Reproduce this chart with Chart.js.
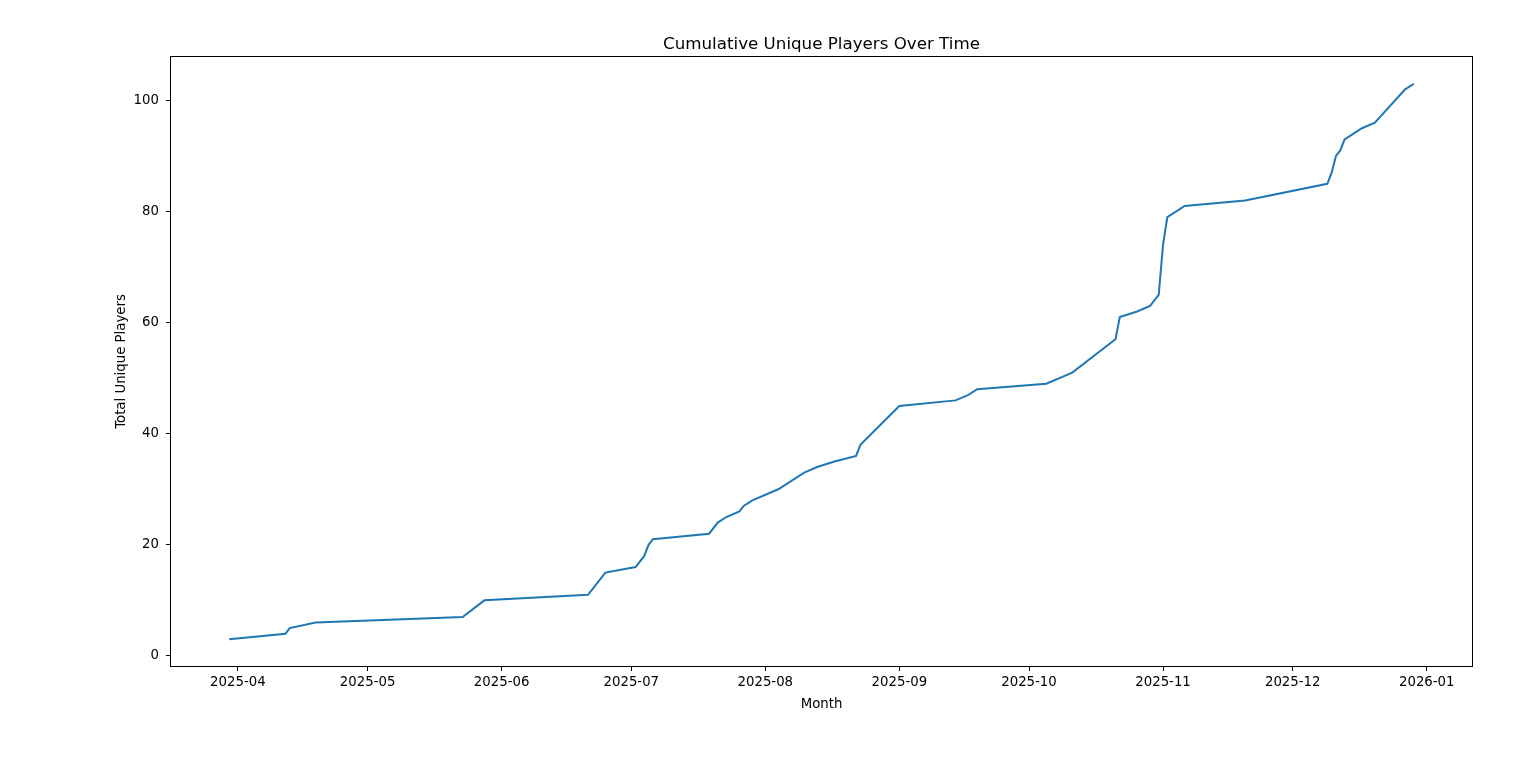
<!DOCTYPE html>
<html>
<head>
<meta charset="utf-8">
<script src="https://cdn.jsdelivr.net/npm/chart.js@4/dist/chart.umd.min.js"></script>
<style>
  html, body { margin: 0; padding: 0; background: #ffffff; }
  #wrap { width: 1536px; height: 759px; position: relative; }
  canvas { display: block; }
</style>
</head>
<body>
<div id="wrap"><canvas id="chart" width="1536" height="759"></canvas></div>
<script>
// ---- Data ----
const dates = [
  "2025-03-30", "2025-04-12", "2025-04-13", "2025-04-19", "2025-05-23", "2025-05-28",
  "2025-06-21", "2025-06-25", "2025-07-02", "2025-07-04", "2025-07-05", "2025-07-06",
  "2025-07-19", "2025-07-21", "2025-07-23", "2025-07-26", "2025-07-27", "2025-07-29",
  "2025-08-04", "2025-08-10", "2025-08-13", "2025-08-17", "2025-08-22", "2025-08-23",
  "2025-09-01", "2025-09-14", "2025-09-17", "2025-09-19", "2025-10-05", "2025-10-11",
  "2025-10-21", "2025-10-22", "2025-10-26", "2025-10-29", "2025-10-31", "2025-11-01",
  "2025-11-02", "2025-11-06", "2025-11-20", "2025-12-09", "2025-12-10", "2025-12-11",
  "2025-12-12", "2025-12-13", "2025-12-17", "2025-12-20", "2025-12-27", "2025-12-29"
];
const totalPlayers = [
  3, 4, 5, 6, 7, 10,
  11, 15, 16, 18, 20, 21,
  22, 24, 25, 26, 27, 28,
  30, 33, 34, 35, 36, 38,
  45, 46, 47, 48, 49, 51,
  57, 61, 62, 63, 65, 74,
  79, 81, 82, 85, 87, 90,
  91, 93, 95, 96, 102, 103
];
const monthTicks = [
  "2025-04", "2025-05", "2025-06", "2025-07", "2025-08",
  "2025-09", "2025-10", "2025-11", "2025-12", "2026-01"
];
const yTicks = [0, 20, 40, 60, 80, 100];

const titleText = "Cumulative Unique Players Over Time";
const xTitle = "Month";
const yTitle = "Total Unique Players";

// ---- Helpers: dates -> day numbers (UTC) ----
const DAY = 86400000;
function dayNum(s) {
  const p = s.split("-").map(Number);
  return Date.UTC(p[0], p[1] - 1, p[2] || 1) / DAY;
}
function fmtMonth(d) {
  const dt = new Date(d * DAY);
  const m = dt.getUTCMonth() + 1;
  return dt.getUTCFullYear() + "-" + (m < 10 ? "0" + m : m);
}

const points = dates.map((d, i) => ({ x: dayNum(d), y: totalPlayers[i] }));
const tickDays = monthTicks.map(dayNum);

// matplotlib-like 5% margins
const xs = points.map(p => p.x), ys = points.map(p => p.y);
const xMinD = Math.min(...xs), xMaxD = Math.max(...xs);
const yMinD = Math.min(...ys), yMaxD = Math.max(...ys);
const xPad = (xMaxD - xMinD) * 0.05, yPad = (yMaxD - yMinD) * 0.05;

const FONT = "'DejaVu Sans', sans-serif";

// Axes frame (all four spines) and title centred over the plot area
const frame = {
  id: 'frame',
  afterDatasetsDraw(chart) {
    const a = chart.chartArea, ctx = chart.ctx;
    ctx.save();
    ctx.strokeStyle = '#000';
    ctx.lineWidth = 1;
    ctx.strokeRect(Math.round(a.left) + 0.5, Math.round(a.top) + 0.5,
                   Math.round(a.right - a.left) - 1, Math.round(a.bottom - a.top) - 1);
    ctx.fillStyle = '#000';
    ctx.font = "16.7px " + FONT;
    ctx.textAlign = 'center';
    ctx.textBaseline = 'alphabetic';
    ctx.fillText(titleText, (a.left + a.right) / 2, 48.5);
    ctx.restore();
  }
};

new Chart(document.getElementById('chart'), {
  type: 'line',
  data: {
    datasets: [{
      data: points,
      borderColor: '#1f77b4',
      backgroundColor: '#1f77b4',
      borderWidth: 2,
      pointRadius: 0,
      pointHoverRadius: 0,
      tension: 0,
      fill: false,
      clip: false
    }]
  },
  options: {
    responsive: false,
    animation: false,
    devicePixelRatio: 1,
    layout: { padding: { left: 0, right: 63, top: 56, bottom: 0 } },
    plugins: {
      legend: { display: false },
      tooltip: { enabled: false },
      title: { display: false }
    },
    scales: {
      x: {
        type: 'linear',
        min: xMinD - xPad,
        max: xMaxD + xPad,
        afterBuildTicks(scale) { scale.ticks = tickDays.map(v => ({ value: v })); },
        afterFit(scale) { scale.height = 92; },
        ticks: {
          color: '#000',
          font: { family: FONT, size: 13.3 },
          padding: 4,
          maxRotation: 0,
          autoSkip: false,
          callback: v => fmtMonth(v)
        },
        grid: { drawOnChartArea: false, drawTicks: true, tickLength: 4, color: '#000', lineWidth: 1 },
        border: { display: false },
        title: {
          display: true,
          text: xTitle,
          color: '#000',
          font: { family: FONT, size: 13.3, lineHeight: 1.2 },
          padding: { top: 0, bottom: 46 }
        }
      },
      y: {
        type: 'linear',
        min: yMinD - yPad,
        max: yMaxD + yPad,
        afterBuildTicks(scale) { scale.ticks = yTicks.map(v => ({ value: v })); },
        afterFit(scale) { scale.width = 170; },
        ticks: {
          color: '#000',
          font: { family: FONT, size: 13.3 },
          padding: 7,
          autoSkip: false
        },
        grid: { drawOnChartArea: false, drawTicks: true, tickLength: 4, color: '#000', lineWidth: 1 },
        border: { display: false },
        title: {
          display: true,
          text: yTitle,
          color: '#000',
          font: { family: FONT, size: 13.3, lineHeight: 1.2 },
          padding: { top: 114, bottom: 0 }
        }
      }
    }
  },
  plugins: [frame]
});
</script>
</body>
</html>
